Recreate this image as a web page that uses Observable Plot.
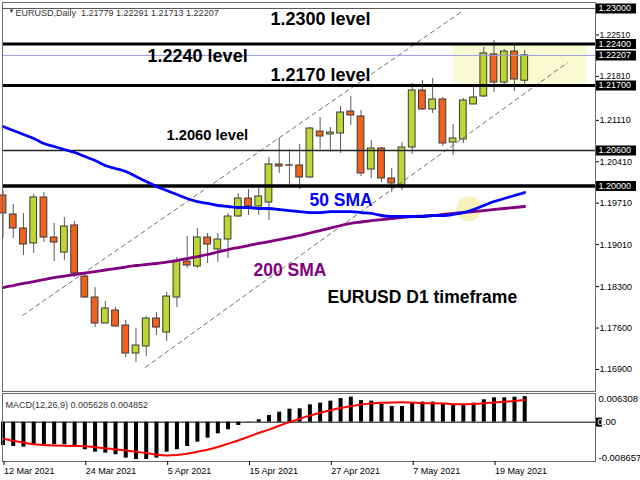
<!DOCTYPE html>
<html><head><meta charset="utf-8">
<script src="https://cdn.jsdelivr.net/npm/d3@7"></script>
<script src="https://cdn.jsdelivr.net/npm/@observablehq/plot@0.6"></script>
<style>
html,body{margin:0;padding:0;background:#fff;}
#chart{position:relative;width:640px;height:480px;overflow:hidden;background:#fff;}
#chart svg{position:absolute;left:0;}
</style></head><body><div id="chart"></div>
<script>
const dates = ["2021-03-12","2021-03-15","2021-03-16","2021-03-17","2021-03-18","2021-03-19","2021-03-22","2021-03-23","2021-03-24","2021-03-25","2021-03-26","2021-03-29","2021-03-30","2021-03-31","2021-04-01","2021-04-02","2021-04-05","2021-04-06","2021-04-07","2021-04-08","2021-04-09","2021-04-12","2021-04-13","2021-04-14","2021-04-15","2021-04-16","2021-04-19","2021-04-20","2021-04-21","2021-04-22","2021-04-23","2021-04-26","2021-04-27","2021-04-28","2021-04-29","2021-04-30","2021-05-03","2021-05-04","2021-05-05","2021-05-06","2021-05-07","2021-05-10","2021-05-11","2021-05-12","2021-05-13","2021-05-14","2021-05-17","2021-05-18","2021-05-19","2021-05-20","2021-05-21","2021-05-24"];
const open = [1.19840,1.19519,1.19282,1.19029,1.19806,1.19130,1.18876,1.19333,1.18471,1.18116,1.17677,1.17896,1.17643,1.17170,1.17288,1.17761,1.17524,1.18116,1.18724,1.18640,1.19130,1.18927,1.19096,1.19485,1.19789,1.19654,1.19721,1.20364,1.20345,1.20347,1.20144,1.20921,1.20871,1.20888,1.21259,1.21175,1.20279,1.20634,1.20127,1.20009,1.20651,1.21614,1.21293,1.21462,1.20735,1.20786,1.21378,1.21513,1.22223,1.21749,1.22273,1.21779];
const high = [1.19924,1.19688,1.19536,1.19857,1.19890,1.19367,1.19468,1.19400,1.18522,1.18285,1.18048,1.17947,1.17727,1.17592,1.17795,1.17862,1.18200,1.18792,1.19147,1.19282,1.19198,1.19198,1.19536,1.19874,1.19941,1.19958,1.20482,1.20803,1.20617,1.20702,1.20989,1.21158,1.20989,1.21344,1.21513,1.21276,1.20769,1.20651,1.20296,1.20735,1.21733,1.21783,1.21817,1.21496,1.21040,1.21479,1.21665,1.22341,1.22459,1.22307,1.22409,1.22291];
const low = [1.19113,1.19113,1.18826,1.18860,1.19045,1.18724,1.18741,1.18454,1.18099,1.17609,1.17677,1.17609,1.17102,1.17017,1.17119,1.17474,1.17372,1.17947,1.18606,1.18606,1.18691,1.18707,1.18775,1.19468,1.19502,1.19502,1.19417,1.20212,1.20026,1.19941,1.20127,1.20617,1.20566,1.20550,1.21023,1.20161,1.20127,1.20059,1.19890,1.19924,1.20533,1.21276,1.21226,1.20668,1.20516,1.20719,1.21378,1.21496,1.21580,1.21699,1.21597,1.21713];
const close = [1.19536,1.19282,1.19012,1.19806,1.19130,1.19045,1.19316,1.18522,1.18116,1.17677,1.17930,1.17626,1.17170,1.17305,1.17761,1.17609,1.18133,1.18741,1.18657,1.19130,1.19012,1.19096,1.19485,1.19789,1.19654,1.19823,1.20364,1.20330,1.20350,1.20144,1.20972,1.20837,1.20904,1.21242,1.21192,1.20212,1.20634,1.20127,1.20043,1.20651,1.21614,1.21293,1.21462,1.20719,1.20803,1.21445,1.21496,1.22240,1.21749,1.22273,1.21800,1.22207];
const sma50 = [1.21006,1.20938,1.20871,1.20803,1.20719,1.20668,1.20617,1.20566,1.20499,1.20431,1.20347,1.20296,1.20245,1.20161,1.20076,1.19992,1.19924,1.19857,1.19789,1.19738,1.19705,1.19671,1.19654,1.19637,1.19637,1.19620,1.19620,1.19603,1.19586,1.19569,1.19552,1.19552,1.19569,1.19569,1.19569,1.19552,1.19536,1.19502,1.19485,1.19485,1.19485,1.19485,1.19502,1.19502,1.19519,1.19552,1.19603,1.19671,1.19738,1.19789,1.19840,1.19890];
const sma200 = [1.18285,1.18319,1.18353,1.18386,1.18420,1.18454,1.18479,1.18505,1.18530,1.18555,1.18581,1.18606,1.18631,1.18657,1.18674,1.18691,1.18716,1.18741,1.18775,1.18809,1.18843,1.18885,1.18927,1.18961,1.18995,1.19029,1.19062,1.19096,1.19130,1.19164,1.19206,1.19248,1.19290,1.19333,1.19367,1.19392,1.19417,1.19434,1.19451,1.19468,1.19485,1.19493,1.19502,1.19519,1.19536,1.19552,1.19569,1.19586,1.19603,1.19620,1.19637,1.19654];
const macdHist = [-0.00513,-0.00535,-0.00550,-0.00497,-0.00497,-0.00497,-0.00497,-0.00513,-0.00607,-0.00660,-0.00682,-0.00718,-0.00792,-0.00821,-0.00821,-0.00792,-0.00660,-0.00607,-0.00535,-0.00439,-0.00351,-0.00256,-0.00168,-0.00072,-0.00005,0.00052,0.00147,0.00220,0.00286,0.00294,0.00382,0.00419,0.00463,0.00520,0.00550,0.00477,0.00463,0.00390,0.00345,0.00345,0.00419,0.00441,0.00441,0.00390,0.00375,0.00390,0.00419,0.00493,0.00536,0.00536,0.00550,0.005628];
const macdSignal = [-0.00366,-0.00410,-0.00450,-0.00485,-0.00505,-0.00512,-0.00518,-0.00524,-0.00530,-0.00550,-0.00575,-0.00600,-0.00625,-0.00652,-0.00680,-0.00715,-0.00733,-0.00725,-0.00696,-0.00650,-0.00605,-0.00545,-0.00475,-0.00403,-0.00320,-0.00240,-0.00165,-0.00080,0.00000,0.00075,0.00145,0.00207,0.00262,0.00310,0.00350,0.00390,0.00410,0.00425,0.00435,0.00440,0.00430,0.00418,0.00418,0.00410,0.00395,0.00392,0.00400,0.00415,0.00435,0.00450,0.00465,0.004852];

const priceTicks = [1.22510,1.21810,1.21110,1.20410,1.19710,1.19010,1.18300,1.17600,1.16900];
const boxedPrices = [1.23000,1.22400,1.22207,1.21700,1.20600,1.20000];
const levelThick = [1.2240,1.2170];
const levelThin = [1.2060];
const levelMajor = [1.2000];
const levelTop = [1.2300];
const bidLine = [1.22207];
const dateTickIndex = [0,8,16,24,32,40,48];
const macdScale = [0.006308,-0.008657];

// annotation anchors in data space (bar index, price)
const noteText = ["1.2300 level","1.2240 level","1.2170 level","1.2060 level","50 SMA","200 SMA","EURUSD D1 timeframe"];
const noteX = [26.15,14.13,26.15,15.98,29.96,24.49,31.72];
const noteY = [1.22713,1.22104,1.21783,1.20786,1.19654,1.18488,1.18015];
const channels = [{x1:1.9,y1:1.17812,x2:45.0,y2:1.22966},{x1:13.9,y1:1.16934,x2:55.2,y2:1.22088}];
const zone = [{x1:44.05,x2:57.05,y1:1.2172,y2:1.2240}];
const spot = [{x:45.53,y:1.19615}];

const candles = dates.map((d,i)=>({i,date:d,open:open[i],high:high[i],low:low[i],close:close[i],sma50:sma50[i],sma200:sma200[i]}));
const macdData = dates.map((d,i)=>({i,date:d,hist:macdHist[i],signal:macdSignal[i]}));
const notes = noteText.map((t,k)=>({text:t,x:noteX[k],y:noteY[k]}));

const fmt5 = d3.format(".5f");
const fmtDate = d3.utcFormat("%-d %b %Y");
const xDomain = [-0.05, 57.92];
const FONT = "'Liberation Sans', Arial, sans-serif";
const style = {fontFamily: FONT, fontSize: "9px", background: "transparent", overflow: "visible", color: "#000"};
const up = "#bdd631", down = "#f2621f";
const last = candles.length - 1;
const header = "EURUSD,Daily\u00a0\u00a0" + [open[last],high[last],low[last],close[last]].map(fmt5).join(" ");
const macdLabel = "MACD(12,26,9) " + macdHist[last].toFixed(6) + " " + macdSignal[last].toFixed(6);

const big = notes.filter(n => /level/.test(n.text) && n.text !== "1.2060 level");
const small = notes.filter(n => n.text === "1.2060 level");
// regular scale labels that sit just above a boxed label get lifted a little
const nearBox = v => boxedPrices.some(b => v > b && v - b < 0.0015);
const ticksFree = priceTicks.filter(v => !nearBox(v));
const ticksLifted = priceTicks.filter(nearBox);

const main = Plot.plot({
  width: 640, height: 392,
  marginLeft: 2, marginRight: 45, marginTop: 2, marginBottom: 1,
  x: {domain: xDomain, axis: null},
  y: {domain: [1.16528, 1.23101]},
  style,
  marks: [
    Plot.rect(zone, {x1:"x1", x2:"x2", y1:"y1", y2:"y2", fill:"#fafad2"}),
    Plot.dot(spot, {x:"x", y:"y", r:12.5, fill:"#f3eea6", fillOpacity:0.8}),
    Plot.ruleX(candles, {x:"i", y1:"low", y2:"high", stroke:"#5a5a5a", strokeWidth:1}),
    Plot.rect(candles, {x1: d=>d.i-0.33, x2: d=>d.i+0.33, y1:"open", y2:"close", fill: d => d.close >= d.open ? up : down, stroke:"#3a3a3a", strokeWidth:1}),
    Plot.link(channels, {x1:"x1", y1:"y1", x2:"x2", y2:"y2", stroke:"#707070", strokeWidth:1, strokeDasharray:"5,3"}),
    Plot.ruleY(levelTop, {stroke:"#555", strokeWidth:1}),
    Plot.ruleY(bidLine, {stroke:"#9a9ae0", strokeWidth:1}),
    Plot.ruleY(levelThick, {stroke:"#000", strokeWidth:3}),
    Plot.ruleY(levelThin, {stroke:"#222", strokeWidth:1.5}),
    Plot.ruleY(levelMajor, {stroke:"#000", strokeWidth:3.5}),
    Plot.line(candles, {x:"i", y:"sma200", stroke:"#800080", strokeWidth:2.8, curve:"monotone-x"}),
    Plot.line(candles, {x:"i", y:"sma50", stroke:"#0000ff", strokeWidth:2.8, curve:"monotone-x"}),
    Plot.text(big, {x:"x", y:"y", text:"text", textAnchor:"start", lineAnchor:"bottom", fontSize:18, fontWeight:"bold", fontFamily:FONT, fill:"#000"}),
    Plot.text(small, {x:"x", y:"y", text:"text", textAnchor:"start", lineAnchor:"bottom", fontSize:14.7, fontWeight:"bold", fontFamily:FONT, fill:"#000"}),
    Plot.text(notes.filter(n=>n.text==="50 SMA"), {x:"x", y:"y", text:"text", textAnchor:"start", lineAnchor:"bottom", fontSize:17.5, fontWeight:"bold", fontFamily:FONT, fill:"#0000ff"}),
    Plot.text(notes.filter(n=>n.text==="200 SMA"), {x:"x", y:"y", text:"text", textAnchor:"start", lineAnchor:"bottom", fontSize:17.5, fontWeight:"bold", fontFamily:FONT, fill:"#800080"}),
    Plot.text(notes.filter(n=>n.text==="EURUSD D1 timeframe"), {x:"x", y:"y", text:"text", textAnchor:"start", lineAnchor:"bottom", fontSize:17.5, fontWeight:"bold", fontFamily:FONT, fill:"#000"}),
    Plot.text(["\u25BC"], {frameAnchor:"top-left", dx:6, dy:6.5, fontSize:6, fill:"#333"}),
    Plot.text([header], {frameAnchor:"top-left", dx:13, dy:7, textAnchor:"start", fontSize:9, fill:"#333"}),
    Plot.frame({stroke:"#6a6a6a"}),
    Plot.axisY(ticksFree, {anchor:"right", tickSize:3, tickPadding:1, tickFormat:fmt5, fontSize:9, label:null}),
    Plot.axisY(ticksLifted, {anchor:"right", tickSize:3, tickPadding:1, tickFormat:fmt5, fontSize:8.5, dy:-2.5, label:null}),
    Plot.ruleY(boxedPrices, {insetLeft:594, insetRight:-41, stroke:"#000", strokeWidth:10}),
    Plot.text(boxedPrices, {y: d=>d, frameAnchor:"right", dx:3, textAnchor:"start", text: fmt5, fill:"#fff", fontSize:9})
  ]
});

const macd = Plot.plot({
  width: 640, height: 88,
  marginLeft: 2, marginRight: 45, marginTop: 1, marginBottom: 19,
  x: {domain: xDomain},
  y: {domain: [macdScale[1], macdScale[0]], axis: null},
  style,
  marks: [
    Plot.ruleY([0], {stroke:"#000", strokeWidth:1}),
    Plot.ruleX(macdData, {x:"i", y1:0, y2:"hist", stroke:"#000", strokeWidth:4}),
    Plot.line(macdData, {x:"i", y:"signal", stroke:"#ff0000", strokeWidth:2, curve:"monotone-x"}),
    Plot.text([macdLabel], {frameAnchor:"top-left", dx:3, dy:8, textAnchor:"start", fontSize:9, fill:"#333"}),
    Plot.frame({stroke:"#6a6a6a"}),
    Plot.axisX(dateTickIndex, {anchor:"bottom", tickSize:4, tickPadding:2, tickFormat: i => fmtDate(new Date(dates[i])), textAnchor:"start", dx:1, fontSize:9, label:null}),
    Plot.text([macdScale[0]], {y: d=>d, frameAnchor:"right", dx:3, textAnchor:"start", lineAnchor:"top", dy:1.5, text: d=>d.toFixed(6), fontSize:9.5, fill:"#000"}),
    Plot.text([macdScale[1]], {y: d=>d, frameAnchor:"right", dx:3, textAnchor:"start", lineAnchor:"bottom", dy:-1, text: d=>d.toFixed(6), fontSize:9.5, fill:"#000"}),
    Plot.ruleY([0], {insetLeft:594, insetRight:-7, stroke:"#000", strokeWidth:9}),
    Plot.text([0], {y: d=>d, frameAnchor:"right", dx:2, textAnchor:"start", text: ()=>"0", fontSize:9.5, fill:"#fff"}),
    Plot.text([0], {y: d=>d, frameAnchor:"right", dx:7.3, textAnchor:"start", text: ()=>".00", fontSize:9.5, fill:"#000"})
  ]
});

const chart = document.getElementById("chart");
main.style.top = "0px";
macd.style.top = "392px";
chart.appendChild(main);
chart.appendChild(macd);
</script></body></html>
